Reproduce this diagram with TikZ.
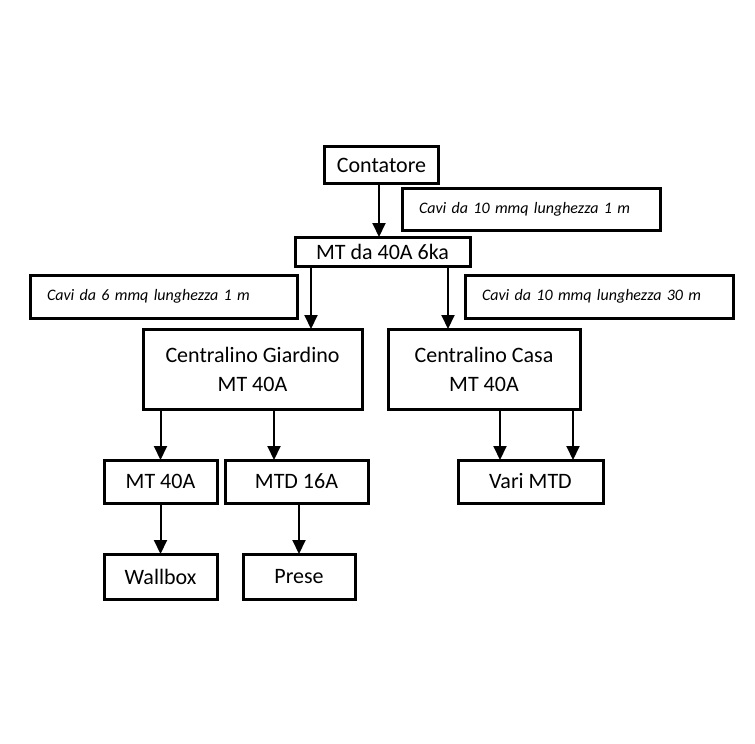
\documentclass[tikz,border=0pt]{standalone}
\usepackage{fontspec}
\setmainfont{Carlito}
\usetikzlibrary{arrows.meta}
\tikzstyle{box}=[rectangle,draw=black,line width=3pt,fill=white,inner sep=0pt,
                 outer sep=0pt,align=center,font=\fontsize{22}{29}\selectfont]
\tikzstyle{note}=[box,inner xsep=17pt,align=left,font=\fontsize{16}{19}\selectfont\itshape]
\tikzstyle{arrow}=[-{Triangle[width=13pt,length=14pt]},line width=2pt,draw=black]

\begin{document}
\begin{tikzpicture}[x=1pt,y=-1pt]
	\useasboundingbox (0,0) rectangle (755,744);

	\node[box,minimum width=114pt,minimum height=37pt] (contatore) at (381.5,165) {Contatore};
	\node[note,text width=224pt,minimum height=42pt] (cavi1) at (531,209) {Cavi da 10 mmq lunghezza 1 m};
	\node[box,minimum width=175pt,minimum height=29pt] (mt) at (382.5,251.5) {MT da 40A 6ka};
	\node[note,text width=233pt,minimum height=43pt] (cavi2) at (163.5,296.5) {Cavi da 6 mmq lunghezza 1 m};
	\node[note,text width=234pt,minimum height=43pt] (cavi3) at (599,296.5) {Cavi da 10 mmq lunghezza 30 m};
	\node[box,minimum width=219pt,minimum height=80pt] (giardino) at (252.5,369) {Centralino Giardino\\MT 40A};
	\node[box,minimum width=192pt,minimum height=80pt] (casa) at (484,369) {Centralino Casa\\MT 40A};
	\node[box,minimum width=113pt,minimum height=43pt] (mt40) at (160.5,481.5) {MT 40A};
	\node[box,minimum width=143pt,minimum height=43pt] (mtd16) at (296.5,481.5) {MTD 16A};
	\node[box,minimum width=145pt,minimum height=43pt] (vari) at (530.5,481.5) {Vari MTD};
	\node[box,minimum width=113pt,minimum height=45pt] (wallbox) at (160.5,576.5) {Wallbox};
	\node[box,minimum width=112pt,minimum height=45pt] (prese) at (299,576.5) {Prese};

	% linee
	\draw[arrow] ([xshift=-2.5pt]contatore.south) -- ([xshift=-2.5pt]contatore.south |- mt.north);
	\draw[arrow] ([xshift=-71.5pt]mt.south) -- ([xshift=-71.5pt]mt.south |- giardino.north);
	\draw[arrow] ([xshift=65.5pt]mt.south) -- ([xshift=65.5pt]mt.south |- casa.north);
	\draw[arrow] (giardino.south -| mt40) -- (mt40.north);
	\draw[arrow] ([xshift=21.5pt]giardino.south) -- ([xshift=21.5pt]giardino.south |- mtd16.north);
	\draw[arrow] (mt40.south) -- (wallbox.north);
	\draw[arrow] (mtd16.south -| prese) -- (prese.north);
	\draw[arrow] ([xshift=16pt]casa.south) -- ([xshift=16pt]casa.south |- vari.north);
	\draw[arrow] ([xshift=89pt]casa.south) -- ([xshift=89pt]casa.south |- vari.north);
\end{tikzpicture}
\end{document}
